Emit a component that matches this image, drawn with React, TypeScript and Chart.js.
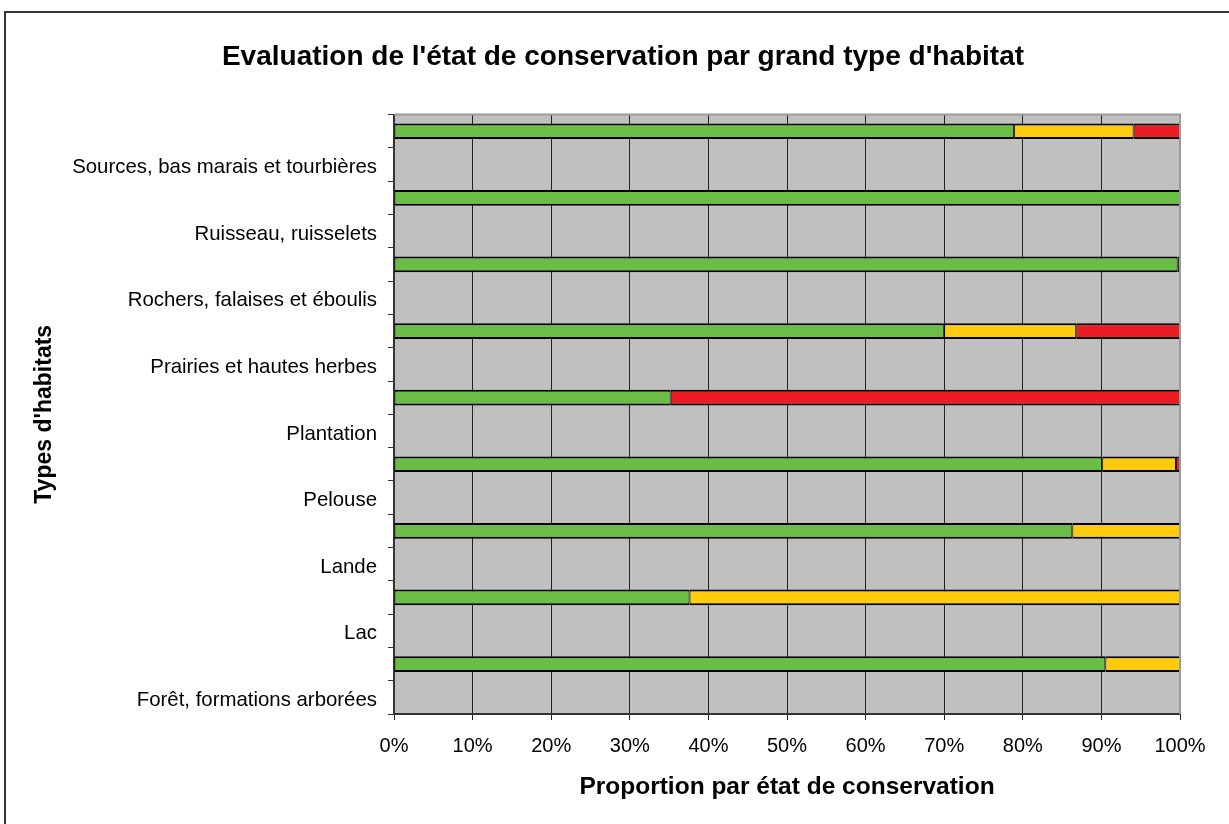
import React, { useEffect, useRef } from "react";
import { Chart, registerables } from "chart.js";

Chart.register(...registerables);

// Categories as listed in the source (bottom to top)
const categories = [
  "Forêt, formations arborées",
  "Lac",
  "Lande",
  "Pelouse",
  "Plantation",
  "Prairies et hautes herbes",
  "Rochers, falaises et éboulis",
  "Ruisseau, ruisselets",
  "Sources, bas marais et tourbières",
];

// Proportions (%) per conservation state
const bon = [90.5, 37.6, 86.3, 90.1, 35.2, 70.0, 99.7, 100, 78.9];
const moyen = [9.5, 62.4, 13.7, 9.4, 0, 16.8, 0, 0, 15.2];
const mauvais = [0, 0, 0, 0.5, 64.8, 13.2, 0, 0, 5.9];
const inconnu = [0, 0, 0, 0, 0, 0, 0.3, 0, 0];

const xTicks = [0, 10, 20, 30, 40, 50, 60, 70, 80, 90, 100];

const seriesNames = ["Bon", "Moyen", "Mauvais", "Inconnu"];
const seriesColors = ["#6abd45", "#fecc0d", "#ed1c24", "#000000"];

const title = "Evaluation de l'état de conservation par grand type d'habitat";
const xTitle = "Proportion par état de conservation";
const yTitle = "Types d'habitats";

const FONT = "'Liberation Sans', Arial, sans-serif";

export default function App() {
  const ref = useRef<HTMLCanvasElement | null>(null);

  useEffect(() => {
    if (!ref.current) return;

    // Build rows top to bottom: an unlabeled bar row above each labeled row
    const rowLabels: string[] = [];
    const rowIndex: (number | null)[] = [];
    for (let i = categories.length - 1; i >= 0; i--) {
      rowLabels.push("");
      rowIndex.push(i);
      rowLabels.push(categories[i]);
      rowIndex.push(null);
    }
    const allSeries = [bon, moyen, mauvais, inconnu];
    const datasets = allSeries.map((s, k) => ({
      label: seriesNames[k],
      data: rowIndex.map((idx) => (idx === null || s[idx] === 0 ? null : s[idx])),
      backgroundColor: seriesColors[k],
      borderColor: "#000000",
      borderWidth: { top: 2, bottom: 2, left: 1, right: 1 },
      borderSkipped: false,
      barPercentage: 0.47,
      categoryPercentage: 1,
    }));

    const framePlugin = {
      id: "frame",
      beforeDraw(chart: any) {
        const { ctx, chartArea } = chart;
        ctx.save();
        ctx.fillStyle = "#c0c0c0";
        ctx.fillRect(chartArea.left, chartArea.top, chartArea.right - chartArea.left, chartArea.bottom - chartArea.top);
        ctx.restore();
      },
      afterDraw(chart: any) {
        const { ctx, chartArea, width, height } = chart;
        ctx.save();
        ctx.strokeStyle = "#9a9a9a";
        ctx.lineWidth = 2;
        ctx.beginPath();
        ctx.moveTo(chartArea.left, chartArea.top);
        ctx.lineTo(chartArea.right, chartArea.top);
        ctx.lineTo(chartArea.right, chartArea.bottom);
        ctx.stroke();
        ctx.strokeStyle = "#333333";
        ctx.lineWidth = 2;
        ctx.beginPath();
        ctx.moveTo(5, height);
        ctx.lineTo(5, 12);
        ctx.lineTo(width, 12);
        ctx.stroke();
        ctx.restore();
      },
    };

    const chart = new Chart(ref.current, {
      type: "bar",
      data: { labels: rowLabels, datasets: datasets as any },
      options: {
        indexAxis: "y",
        animation: false,
        responsive: false,
        layout: { padding: { left: 66, right: 49, top: 0, bottom: 0 } },
        plugins: {
          legend: { display: false },
          tooltip: { enabled: false },
          title: {
            display: true,
            text: title,
            color: "#000",
            font: { family: FONT, size: 28, weight: "bold" },
            padding: { top: 40, bottom: 41 },
          },
        },
        scales: {
          x: {
            stacked: true,
            min: 0,
            max: 100,
            afterBuildTicks: (scale: any) => {
              scale.ticks = xTicks.map((v) => ({ value: v }));
            },
            afterFit: (scale: any) => {
              scale.height = 110;
            },
            ticks: {
              color: "#000",
              font: { family: FONT, size: 20 },
              padding: 14,
              callback: (v: any) => v + "%",
            },
            grid: {
              color: (c: any) => (c.tick && c.tick.value === 100 ? "#9a9a9a" : "#222222"),
              lineWidth: 1,
              tickLength: 6,
              tickColor: "#222222",
            },
            border: { color: "#333333", width: 2 },
            title: {
              display: true,
              text: xTitle,
              color: "#000",
              font: { family: FONT, size: 24.5, weight: "bold" },
              padding: { top: 0, bottom: 22 },
            },
          },
          y: {
            stacked: true,
            afterFit: (scale: any) => {
              scale.width = 328;
            },
            ticks: {
              color: "#000",
              font: { family: FONT, size: 20.4 },
              padding: 11,
              labelOffset: 3,
              autoSkip: false,
            },
            grid: {
              drawOnChartArea: false,
              drawTicks: true,
              tickLength: 6,
              color: "#333333",
              offset: true,
            },
            border: { color: "#333333", width: 2 },
            title: {
              display: true,
              text: yTitle,
              color: "#000",
              font: { family: FONT, size: 23, weight: "bold" },
              padding: { top: -35, bottom: 0 },
            },
          },
        },
      },
      plugins: [framePlugin],
    });

    return () => chart.destroy();
  }, []);

  return (
    <div style={{ position: "fixed", left: 0, top: 0, width: 1229, height: 824, overflow: "hidden", background: "#fff" }}>
      <canvas ref={ref} width={1229} height={824} style={{ display: "block" }} />
    </div>
  );
}
